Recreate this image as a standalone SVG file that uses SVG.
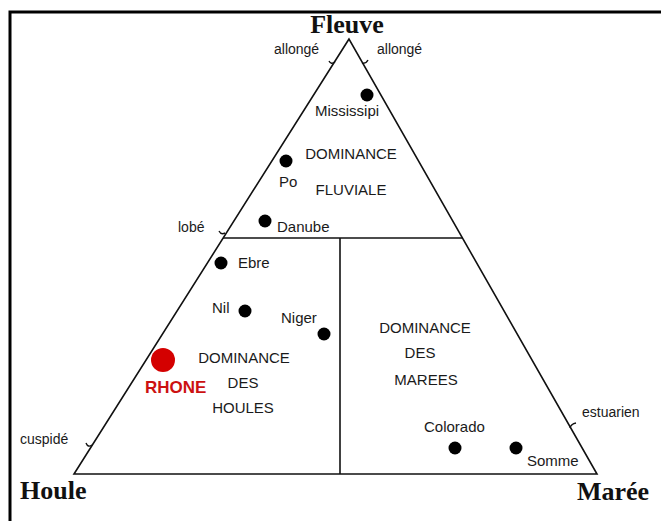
<svg xmlns="http://www.w3.org/2000/svg" width="661" height="521" viewBox="0 0 661 521">
<style>
.lbl{font-family:"Liberation Sans",Arial,sans-serif;font-size:15px;fill:#1a1a1a}
.sm{font-family:"Liberation Sans",Arial,sans-serif;font-size:14px;fill:#1a1a1a}
.big{font-family:"Liberation Serif","Times New Roman",serif;font-size:26px;font-weight:bold;fill:#111}
.ln{stroke:#111;stroke-width:1.6;fill:none}
.tk{stroke:#111;stroke-width:1.4;fill:none}
.dot{fill:#000}
</style>
<rect width="661" height="521" fill="#fff"/>
<g id="frame">
<path d="M10,521 V12 H661" stroke="#000" stroke-width="3" fill="none"/>
</g>
<g id="connectors">
<path class="ln" d="M349,39 L74,474 L597,474 Z"/>
<line class="ln" x1="223" y1="238" x2="463" y2="238"/>
<line class="ln" x1="340" y1="238" x2="340" y2="474"/>
<path class="tk" d="M329,61 q2,4 6,1"/>
<path class="tk" d="M362,63 q4,1 6,-3"/>
<path class="tk" d="M219,231 q2,4 6,2"/>
<path class="tk" d="M86,443 q2,5 6,2"/>
<path class="tk" d="M570,428 q1,-4 6,-5"/>
</g>
<g id="vertex-fleuve"><text class="big" x="347" y="33" text-anchor="middle">Fleuve</text></g>
<g id="vertex-houle"><text class="big" x="20" y="499">Houle</text></g>
<g id="vertex-maree"><text class="big" x="577" y="500">Marée</text></g>
<g id="label-allonge-left"><text class="sm" x="274" y="54">allongé</text></g>
<g id="label-allonge-right"><text class="sm" x="377" y="54">allongé</text></g>
<g id="label-lobe"><text class="sm" x="178" y="232">lobé</text></g>
<g id="label-cuspide"><text class="sm" x="20" y="444">cuspidé</text></g>
<g id="label-estuarien"><text class="sm" x="582" y="417">estuarien</text></g>
<g id="zone-fluviale">
<text class="lbl" x="351" y="159" text-anchor="middle">DOMINANCE</text>
<text class="lbl" x="351" y="195" text-anchor="middle">FLUVIALE</text>
</g>
<g id="zone-houles">
<text class="lbl" x="244" y="363" text-anchor="middle">DOMINANCE</text>
<text class="lbl" x="243" y="388" text-anchor="middle">DES</text>
<text class="lbl" x="243" y="413" text-anchor="middle">HOULES</text>
</g>
<g id="zone-marees">
<text class="lbl" x="425" y="333" text-anchor="middle">DOMINANCE</text>
<text class="lbl" x="420" y="358" text-anchor="middle">DES</text>
<text class="lbl" x="426" y="385" text-anchor="middle">MAREES</text>
</g>
<g id="mississipi"><circle class="dot" cx="367" cy="95" r="6.5"/><text class="lbl" x="347" y="116" text-anchor="middle">Mississipi</text></g>
<g id="po"><circle class="dot" cx="286" cy="161" r="6.5"/><text class="lbl" x="279" y="187">Po</text></g>
<g id="danube"><circle class="dot" cx="265" cy="221" r="6.5"/><text class="lbl" x="277" y="232">Danube</text></g>
<g id="ebre"><circle class="dot" cx="221" cy="263" r="6.5"/><text class="lbl" x="238" y="268">Ebre</text></g>
<g id="nil"><circle class="dot" cx="245" cy="311" r="6.5"/><text class="lbl" x="212" y="313">Nil</text></g>
<g id="niger"><circle class="dot" cx="324" cy="334" r="6.5"/><text class="lbl" x="281" y="323">Niger</text></g>
<g id="rhone"><circle cx="163" cy="360" r="12" fill="#d40000"/><text x="145" y="393" font-family="Liberation Sans,Arial,sans-serif" font-size="17" font-weight="bold" fill="#cc1111">RHONE</text></g>
<g id="colorado"><circle class="dot" cx="455" cy="448" r="6.5"/><text class="lbl" x="424" y="432">Colorado</text></g>
<g id="somme"><circle class="dot" cx="516" cy="448" r="6.5"/><text class="lbl" x="527" y="466">Somme</text></g>
</svg>
